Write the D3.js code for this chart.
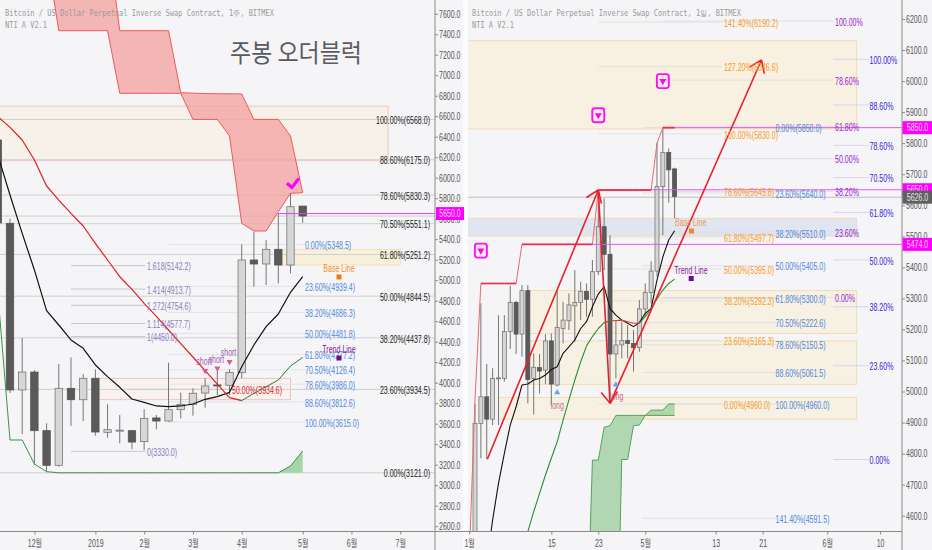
<!DOCTYPE html>
<html><head><meta charset="utf-8">
<script src="https://cdn.jsdelivr.net/npm/d3@7"></script>
<style>html,body{margin:0;padding:0;background:#f5f5f7;overflow:hidden}svg{display:block}
text{font-family:"Liberation Sans","Noto Sans CJK KR",sans-serif}</style>
</head><body><svg id="c" width="932" height="550"></svg>
<script>
// ---------- weekly panel data ----------
const weekTitle="Bitcoin / US Dollar Perpetual Inverse Swap Contract, 1주, BITMEX";
const indicatorName="NTI A V2.1";
const weekOpen =[5555,3929,4104,3532,3194,3945,3834,4043,3516,3530,3532,3425,3656,3626,3737,3789,3899,3978,3975,4098,5197,5158,5301,5148,5723];
const weekClose=[3929,4104,3532,3194,3945,3834,4043,3519,3542,3537,3421,3652,3626,3737,3789,3897,3968,3971,4101,5197,5158,5301,5148,5717,5626];
const weekHigh =[5600,4436,4124,3604,4182,4248,4085,4131,3792,3685,3535,3741,3685,4195,3902,3945,4043,4117,4131,5350,5473,5392,5655,5848,5723];
const weekLow  =[3900,3500,3197,3132,3180,3578,3626,3483,3464,3409,3350,3343,3545,3620,3652,3678,3756,3880,3880,4043,4937,4953,4970,5067,5561];
const weekBlack=[5831,5457,5100,4703,4563,4417,4335,4173,4059,3955,3841,3808,3773,3766,3773,3792,3838,3864,3906,4156,4368,4547,4670,4882,5034];
const weekBaseRed=[6491,6368,6173,5919,5782,5652,5529,5360,5197,5034,4911,4774,4647,4514,4381,4251,4117,3987,3854,3825];
const weekBaseGreen=[3825,3896,3961,4026,4163,4247];
const weekLowGreen=[3441,3441,3207,3132,3121,3121,3121,3121,3121,3121,3121,3121,3121,3121,3121,3121,3121,3121,3121,3121,3121,3121,3121,3187,3334];
const weekCloudLow=[null,null,null,8192,7434,7434,7434,7434,7434,6823,6823,6823,6823,6823,6823,6569,6569,6569,6407,5555,5480,5480,5669,5847,5854];
const weekCloudHigh=[null,null,null,8400,8400,8400,8400,8400,8358,7434,7434,7434,7434,7434,6830,6825,6821,6819,6818,6817,6569,6569,6569,6407,5854];
const weekTickIdx=[2,7,11,15,19,24,28,32];
const weekTickLab=["12월","2019","2월","3월","4월","5월","6월","7월"];
const leftPriceTicks=[2600,2800,3000,3200,3400,3600,3800,4000,4200,4400,4600,4800,5000,5200,5400,5600,5800,6000,6200,6400,6600,6800,7000,7200,7400,7600];
const fibBlackPct=["100.00%","88.60%","78.60%","70.50%","61.80%","50.00%","38.20%","23.60%","0.00%"];
const fibBlackVal=[6568.0,6175.0,5830.3,5551.1,5251.2,4844.5,4437.8,3934.5,3121.0];
const fibBluePct=["0.00%","23.60%","38.20%","50.00%","61.80%","70.50%","78.60%","88.60%","100.00%"];
const fibBlueVal=[5348.5,4939.4,4686.3,4481.8,4277.2,4126.4,3986.0,3812.6,3615.0];
const extRatio=["1.618","1.414","1.272","1.114","1","0"];
const extVal=[5142.2,4913.7,4754.6,4577.7,4450.0,3330.0];
const shortIdx=[16,17,18]; const shortVal=[4117,4140,4205];
// ---------- daily panel data ----------
const dayTitle="Bitcoin / US Dollar Perpetual Inverse Swap Contract, 1일, BITMEX";
const dayOpen =[4500,4897,4983,4911,5042,5042,5193,5287,5185,5325,5042,5077,5069,5163,5021,5203,5228,5276,5287,5322,5297,5386,5531,5442,5121,5150,5164,5155,5142,5266,5319,5388,5660,5770,5717];
const dayClose=[4897,4983,4911,5042,5044,5193,5287,5185,5325,5039,5078,5066,5163,5024,5206,5230,5279,5287,5322,5297,5386,5531,5442,5121,5150,5164,5155,5141,5266,5319,5388,5660,5770,5714,5628];
const dayHigh =[4960,5284,5089,5075,5246,5246,5341,5292,5343,5343,5123,5121,5185,5187,5322,5289,5316,5391,5354,5348,5424,5649,5622,5504,5230,5225,5214,5198,5295,5348,5420,5800,5851,5783,5721];
const dayLow  =[4400,4785,4783,4892,4892,5032,5137,5121,5112,4962,4926,4994,5024,4956,5016,5155,5198,5160,5230,5241,5241,5375,5391,4967,5042,5107,5107,5064,5128,5240,5284,5370,5504,5608,5558];
const dayStep =[4975,5348,5348,5348,5348,5348,5348,5348,5474,5474,5474,5474,5474,5474,5474,5474,5474,5474,5474,5474,5474,5649,5649,5649,5649,5649,5649,5649,5649,5649,5649,5800,5850,5850,5850];
const dayBlackIdx=[3,4,5,6,7,8,9,10,11,12,13,14,15,16,17,18,19,20,21,22,23,24,25,26,27,28,29,30,31,32,33,34];
const dayBlack=[4586,4704,4801,4892,4951,5021,5024,5037,5042,5053,5071,5080,5123,5144,5166,5203,5225,5273,5314,5338,5268,5246,5230,5220,5209,5222,5252,5268,5359,5434,5488,5518];
const dayGreenIdxA=[9,10,11,12,13,14,15,16,17,18,19,20,21,22,23];
const dayGreenA=[4549,4613,4672,4731,4785,4838,4908,4973,5037,5096,5147,5177,5203,5222,5227];
const dayRedIdx=[23,24,25,26,27,28];
const dayRed=[5227,5229,5230,5225,5220,5220];
const dayGreenIdxB=[28,29,30,31,32,33,34];
const dayGreenB=[5220,5241,5268,5298,5327,5348,5362];
const dayCloudIdx=[19,20,21,22,23,24,25,26,27,28,29,30,31,32,33,34];
const dayCloudA=[4166,4779,4779,4885,4890,4923,4923,4923,4923,4923,4923,4940,4940,4940,4960,4960];
const dayCloudB=[3950,3950,3950,3950,3950,3950,4781,4781,4890,4892,4923,4923,4923,4923,4923,4923];
const dayTickIdx=[-1,13,21,29,41,49,60,69];
const dayTickLab=["1월","15","23","5월","13","21","6월","10"];
const rightPriceTicks=[4600,4700,4800,4900,5000,5100,5200,5300,5400,5500,5600,5700,5800,5900,6000,6100,6200];
const fibOrangePct=["141.40%","127.20%","100.00%","78.60%","61.80%","50.00%","38.20%","23.60%","0.00%"];
const fibOrangeVal=[6190.2,6046.6,5830.0,5645.8,5497.7,5395.0,5292.3,5165.3,4960.0];
const fibDayBluePct=["0.00%","23.60%","38.20%","50.00%","61.80%","70.50%","78.60%","88.60%","100.00%","141.40%"];
const fibDayBlueVal=[5850.0,5640.0,5510.0,5405.0,5300.0,5222.6,5150.5,5061.5,4960.0,4591.5];
const fibPurpleLab=["100.00%","78.60%","61.80%","50.00%","38.20%","23.60%","0.00%"];
const fibPurpleLev=[6193,6003,5853,5750,5644,5514,5303];
const fibIndigoLab=["100.00%","88.60%","78.60%","70.50%","61.80%","50.00%","38.20%","23.60%","0.00%"];
const fibIndigoLev=[6070,5923,5793,5689,5577,5424,5273,5083,4781];
const arrowIdx=[2.1,21,23,48.8];
const arrowVal=[4782,5649,4962,6068];
const badgeIdx=[1,21,32]; const badgeVal=[5454,5890,6000];
const dayZoneFrom=[-1.5,-1.5,9,9,4]; const dayZoneTop=[6130,5558,5325,5163,4981]; const dayZoneBot=[5846,5501,5187,5023,4911];
const dayZoneFill=["#f8f0e1","#dfe5f1","#f7f1e3","#f7f1e3","#f7f1e3"];

// ---------- scales ----------
const svg=d3.select("#c");
const xW=d3.scaleLinear().domain([0,24]).range([10,302.7]);
const yW=d3.scaleLinear().domain([7600,2600]).range([13.7,526.2]);
const xD=d3.scaleLinear().domain([0,34]).range([475,674.6]);
const yD=d3.scaleLinear().domain([6200,4600]).range([19,515.7]);
const defs=svg.append("defs");
defs.append("clipPath").attr("id","cL").append("rect").attr("x",0).attr("y",0).attr("width",435).attr("height",531.5);
defs.append("clipPath").attr("id","cR").append("rect").attr("x",468).attr("y",0).attr("width",434).attr("height",531.5);

const labelSize=10.5;
function txt(g,x,y,s,o={}){
  const t=g.append("text").attr("x",x).attr("y",y).attr("dy","0.35em").attr("fill",o.fill||"#333")
    .attr("font-size",o.size||labelSize).attr("text-anchor",o.anchor||"start").text(s);
  if(o.family)t.style("font-family",o.family);
  if(o.len)t.attr("textLength",o.len).attr("lengthAdjust","spacingAndGlyphs");
  if(o.weight)t.attr("font-weight",o.weight);
  return t;
}
function candles(g,idx,O,C,H,L,x,y,w){
  const sel=g.selectAll(null).data(idx).enter().append("g");
  sel.append("line").attr("x1",i=>x(i)).attr("x2",i=>x(i)).attr("y1",(i,k)=>y(H[k])).attr("y2",(i,k)=>y(L[k])).attr("stroke","#757575").attr("stroke-width",1);
  sel.append("rect").attr("x",i=>x(i)-w/2).attr("width",w)
    .attr("y",(i,k)=>y(Math.max(O[k],C[k]))).attr("height",(i,k)=>Math.max(1,Math.abs(y(O[k])-y(C[k]))))
    .attr("fill",(i,k)=>C[k]>=O[k]?"#d6d6d6":"#5a5a5a").attr("stroke",(i,k)=>C[k]>=O[k]?"#787878":"#555").attr("stroke-width",0.8);
}
function path(g,idx,vals,x,y,col,w,op){
  g.append("path").datum(idx.map((i,k)=>[i,vals[k]])).attr("fill","none").attr("stroke",col).attr("stroke-width",w).attr("stroke-linejoin","round")
   .attr("opacity",op||1).attr("d",d3.line().x(d=>x(d[0])).y(d=>y(d[1])));
}
function tag(g,x,y,w,s,fill,col){
  g.append("rect").attr("x",x).attr("y",y-6.5).attr("width",w).attr("height",13).attr("fill",fill);
  txt(g,x+w/2,y,s,{fill:col,anchor:"middle"});
}
const range=n=>d3.range(n);

// ---------- weekly panel ----------
const L=svg.append("g").attr("clip-path","url(#cL)");
// zones
const zoneW=[[-1,31,6698,6165,"#f7f2e9","#eab9b5"],[22,32,5301,5148,"#f8f0da","#f5dcb0"],[7,23,4043,3834,"#f8f2f0","#efb5b5"]];
zoneW.forEach(z=>L.append("rect").attr("x",xW(z[0])).attr("y",yW(z[2])).attr("width",xW(z[1])-xW(z[0])).attr("height",yW(z[3])-yW(z[2])).attr("fill",z[4]).attr("stroke",z[5]).attr("stroke-width",.8));
L.append("line").attr("x1",xW(9.6)).attr("x2",xW(18.1)).attr("y1",yW(3934.6)).attr("y2",yW(3934.6)).attr("stroke","#d98c8c");
// horizontal fib lines
fibBlackVal.forEach(v=>L.append("line").attr("x1",0).attr("x2",435).attr("y1",yW(v)).attr("y2",yW(v)).attr("stroke","#d0d0d2").attr("stroke-width",1));
fibBlueVal.forEach(v=>L.append("line").attr("x1",xW(13)).attr("x2",xW(24.2)).attr("y1",yW(v)).attr("y2",yW(v)).attr("stroke","#e2e2e6"));
extVal.forEach(v=>L.append("line").attr("x1",xW(5)).attr("x2",xW(11.1)).attr("y1",yW(v)).attr("y2",yW(v)).attr("stroke","#c5c5d8").attr("stroke-width",1));
L.append("line").attr("x1",0).attr("x2",435).attr("y1",yW(5626)).attr("y2",yW(5626)).attr("stroke","#cfcfd1");
// cloud red
const wc=range(25).filter(i=>weekCloudLow[i]!=null);
L.append("path").datum(wc).attr("fill","#f4a3a3").attr("fill-opacity",.78).attr("d",d3.area().x(i=>xW(i)).y0(i=>yW(weekCloudLow[i])).y1(i=>yW(weekCloudHigh[i])));
path(L,wc,wc.map(i=>weekCloudLow[i]),xW,yW,"#ec5b5b",1);
path(L,wc,wc.map(i=>weekCloudHigh[i]),xW,yW,"#ec5b5b",1);
// green cloud
const wg=[22,23,24];
L.append("path").datum(wg).attr("fill","#a5d6a7").attr("d",d3.area().x(i=>xW(i)).y0(yW(3121)).y1(i=>yW(weekLowGreen[i])));
// candles
candles(L,range(25),weekOpen,weekClose,weekHigh,weekLow,xW,yW,7.4);
candles(L,[-1],[6368],[5558],[6368],[5500],xW,yW,7.4);
// magenta level
L.append("line").attr("x1",xW(22)).attr("x2",435).attr("y1",yW(5650)).attr("y2",yW(5650)).attr("stroke","#e040e8").attr("stroke-width",1);
// lines
path(L,[-1].concat(range(25)),[6221].concat(weekBlack),xW,yW,"#111",1.2);
path(L,[-1].concat(range(20)),[6596].concat(weekBaseRed),xW,yW,"#e01f1f",1.2);
path(L,d3.range(19,25),weekBaseGreen,xW,yW,"#2e7d32",1);
path(L,[-1].concat(range(25)),[4872].concat(weekLowGreen),xW,yW,"#3b9440",1);
// labels
fibBlackVal.forEach((v,k)=>txt(L,430,yW(v)+1,fibBlackPct[k]+"("+v.toFixed(1)+")",{fill:"#222",anchor:"end"}));
fibBlueVal.forEach((v,k)=>txt(L,305,yW(v)+1,fibBluePct[k]+"("+v.toFixed(1)+")",{fill:"#4d88dd"}));
extVal.forEach((v,k)=>txt(L,147,yW(v)+1,extRatio[k]+"("+v.toFixed(1)+")",{fill:"#8b7cc0"}));
txt(L,232,yW(3934.6)+1,"50.00%(3934.6)",{fill:"#e51c1c"});
txt(L,339,268,"Base Line",{fill:"#f58a25",anchor:"middle"});
L.append("rect").attr("x",336.5).attr("y",274.5).attr("width",5).attr("height",5).attr("fill","#f57c00");
txt(L,339,349.5,"Trend Line",{fill:"#8e1a9c",anchor:"middle"});
L.append("rect").attr("x",336.5).attr("y",355.5).attr("width",5).attr("height",5).attr("fill","#6a0f8a");
shortIdx.forEach((i,k)=>{
  const px=xW(i),py=yW(shortVal[k]);
  txt(L,px-1,py-9,"short",{fill:"#a45bb0",anchor:"middle"});
  L.append("path").attr("d",d3.symbol().type(d3.symbolTriangle).size(16)).attr("transform",`translate(${px},${py}) rotate(180)`).attr("fill","#e2558f");
});
txt(L,230,53,"주봉 오더블럭",{fill:"#5b5b5f",size:25,len:132,family:'"Noto Sans CJK KR"'});
// check mark
const ckX=xW(23.2),ckY=yW(5935);
L.append("path").datum([[-6,-1],[-1,3],[6,-6]]).attr("fill","none").attr("stroke","#ff00ff").attr("stroke-width",3.2)
 .attr("d",d3.line().x(d=>ckX+d[0]).y(d=>ckY+d[1]));
txt(L,5,13,weekTitle,{fill:"#9a9a9a",size:8,len:269,family:'"DejaVu Sans Mono"'});
txt(L,5,25,indicatorName,{fill:"#9a9a9a",size:8,len:42,family:'"DejaVu Sans Mono"'});

// ---------- daily panel ----------
const R=svg.append("g").attr("clip-path","url(#cR)");
dayZoneTop.forEach((t,k)=>R.append("rect").attr("x",xD(dayZoneFrom[k])).attr("y",yD(t)).attr("width",xD(65)-xD(dayZoneFrom[k])).attr("height",yD(dayZoneBot[k])-yD(t))
  .attr("fill",dayZoneFill[k]).attr("stroke","#f5d9ac").attr("stroke-width",.9));
R.append("line").attr("x1",468).attr("x2",902).attr("y1",yD(5626)).attr("y2",yD(5626)).attr("stroke","#bdbdbf");
const faint=(vals,a,b,c)=>vals.forEach(v=>R.append("line").attr("x1",xD(a)).attr("x2",xD(b)).attr("y1",yD(v)).attr("y2",yD(v)).attr("stroke",c));
faint(fibOrangeVal,21,42,"#e4e2dc");
faint(fibDayBlueVal,28.5,51.5,"#e0e0e4");
faint(fibPurpleLev,32,61,"#e2dde8");
faint(fibIndigoLev,61,67.1,"#d5d5ef");
// green cloud
R.append("path").datum(dayCloudIdx.map((i,k)=>k)).attr("fill","#9fcf9f").attr("fill-opacity",.8).attr("stroke","none")
 .attr("d",d3.area().x(k=>xD(dayCloudIdx[k])).y0(k=>yD(dayCloudB[k])).y1(k=>yD(dayCloudA[k])));
path(R,dayCloudIdx,dayCloudA,xD,yD,"#4a9a4f",.9);
path(R,dayCloudIdx,dayCloudB,xD,yD,"#4a9a4f",.9);
// candles
candles(R,range(35),dayOpen,dayClose,dayHigh,dayLow,xD,yD,4);
// magenta levels
[[5850,32],[5650,21],[5474,8]].forEach(l=>R.append("line").attr("x1",xD(l[1])).attr("x2",902).attr("y1",yD(l[0])).attr("y2",yD(l[0])).attr("stroke","#e45ce8").attr("stroke-width",1));
// step line
path(R,[-1.1].concat(range(35)),[4400].concat(dayStep),xD,yD,"#ea6a6a",1);
range(34).filter(i=>dayStep[i]===dayStep[i+1]).forEach(i=>path(R,[i,i+1],[dayStep[i],dayStep[i+1]],xD,yD,"#e53050",1.7));
// lines
path(R,[2.4].concat(dayBlackIdx),[4500].concat(dayBlack),xD,yD,"#111",1.1);
path(R,dayGreenIdxA,dayGreenA,xD,yD,"#2e8b32",1.1);
path(R,dayRedIdx,dayRed,xD,yD,"#e0362c",1.1);
path(R,dayGreenIdxB,dayGreenB,xD,yD,"#2e8b32",1.1);
// arrows
function arrow(i0,v0,i1,v1){
  const a=[xD(i0),yD(v0)],b=[xD(i1),yD(v1)],ang=Math.atan2(b[1]-a[1],b[0]-a[0]),hl=14,sp=0.62;
  const g=R.append("g").attr("fill","none").attr("stroke","#e8202c").attr("stroke-width",1.6);
  g.append("line").attr("x1",a[0]).attr("y1",a[1]).attr("x2",b[0]).attr("y2",b[1]);
  [-sp,sp].forEach(s=>g.append("line").attr("x1",b[0]).attr("y1",b[1]).attr("x2",b[0]-hl*Math.cos(ang+s)).attr("y2",b[1]-hl*Math.sin(ang+s)));
}
for(let k=0;k<3;k++)arrow(arrowIdx[k],arrowVal[k],arrowIdx[k+1],arrowVal[k+1]);
// badges
badgeIdx.forEach((i,k)=>{
  const px=xD(i),py=yD(badgeVal[k]);
  R.append("rect").attr("x",px-6).attr("y",py-7).attr("width",12).attr("height",14).attr("rx",2.5).attr("fill","#fbe9fb").attr("stroke","#ff10ee").attr("stroke-width",1.9);
  R.append("path").attr("d",d3.symbol().type(d3.symbolTriangle).size(22)).attr("transform",`translate(${px},${py}) rotate(180)`).attr("fill","#f010e0");
});
// labels
fibOrangeVal.forEach((v,k)=>txt(R,724,yD(v)+1,fibOrangePct[k]+"("+v.toFixed(1)+")",{fill:"#f59a23"}));
fibDayBlueVal.forEach((v,k)=>txt(R,775.5,yD(v)+1,fibDayBluePct[k]+"("+v.toFixed(1)+")",{fill:"#4f86d8"}));
fibPurpleLev.forEach((v,k)=>txt(R,835,yD(v)+1,fibPurpleLab[k],{fill:"#9a20d8"}));
fibIndigoLev.forEach((v,k)=>txt(R,869.5,yD(v)+1,fibIndigoLab[k],{fill:"#3b1fd8"}));
txt(R,690.7,222.5,"Base Line",{fill:"#ec9a55",anchor:"middle"});
R.append("rect").attr("x",689).attr("y",228.5).attr("width",5).attr("height",5).attr("fill","#ef8a2a");
txt(R,691,270.7,"Trend Line",{fill:"#8e1a9c",anchor:"middle"});
R.append("rect").attr("x",688.7).attr("y",276).attr("width",5).attr("height",5).attr("fill","#6a0f8a");
[[14,4997,557.3,405],[24,5022,616.7,396.7]].forEach(l=>{
  R.append("path").attr("d",d3.symbol().type(d3.symbolTriangle).size(16)).attr("transform",`translate(${xD(l[0])},${yD(l[1])})`).attr("fill","#5fa5ee");
  txt(R,l[2],l[3],"long",{fill:"#c0708e",anchor:"middle"});
});
txt(R,472,13,dayTitle,{fill:"#9a9a9a",size:8,len:269,family:'"DejaVu Sans Mono"'});
txt(R,472,25,indicatorName,{fill:"#9a9a9a",size:8,len:42,family:'"DejaVu Sans Mono"'});

// ---------- axes ----------
function styleAxis(g){
  g.select(".domain").attr("stroke","#8a8a8a").attr("stroke-width",1);
  g.selectAll(".tick line").attr("stroke","#8a8a8a");
  g.selectAll(".tick text").attr("fill","#555").attr("font-size",labelSize).style("font-family",'"Liberation Sans","Noto Sans CJK KR",sans-serif');
}
svg.append("rect").attr("x",463).attr("y",0).attr("width",5).attr("height",550).attr("fill","#fcfcfd");
const fmt=d3.format(".1f");
const ayL=svg.append("g").attr("transform","translate(435,0)").call(d3.axisRight(yW).tickValues(leftPriceTicks).tickFormat(fmt).tickSize(3).tickPadding(1)); styleAxis(ayL);
ayL.select(".domain").attr("d","M0,0V550");
const ayR=svg.append("g").attr("transform","translate(902,0)").call(d3.axisRight(yD).tickValues(rightPriceTicks).tickFormat(fmt).tickSize(3).tickPadding(1)); styleAxis(ayR);
ayR.select(".domain").attr("d","M0,0V550");
const axL=svg.append("g").attr("transform","translate(0,531.5)").call(d3.axisBottom(xW).tickValues(weekTickIdx).tickFormat((d,i)=>weekTickLab[i]).tickSize(3).tickPadding(5)); styleAxis(axL);
axL.select(".domain").attr("d","M0,0H435");
const axR=svg.append("g").attr("transform","translate(0,531.5)").call(d3.axisBottom(xD).tickValues(dayTickIdx).tickFormat((d,i)=>dayTickLab[i]).tickSize(3).tickPadding(5)); styleAxis(axR);
axR.select(".domain").attr("d","M435,0H902");
// price tags
const TG=svg.append("g");
tag(TG,436,yW(5650),28,"5650.0","#ff00ff","#f6d8f6");
tag(TG,902.5,yD(5850),30,"5850.0","#ff00ff","#f6d8f6");
tag(TG,902.5,yD(5650),30,"5650.0","#ff00ff","#f6d8f6");
tag(TG,902.5,yD(5626),30,"5626.0","#5f5f5f","#e8e8e8");
tag(TG,902.5,yD(5474),30,"5474.0","#ff00ff","#f6d8f6");
// condense the proportional labels to the reference's narrow look
svg.selectAll("text").each(function(){
  if(this.getAttribute("textLength"))return;
  const w=this.getComputedTextLength();
  this.setAttribute("textLength",(w*0.67).toFixed(1));
  this.setAttribute("lengthAdjust","spacingAndGlyphs");
});
</script></body></html>
